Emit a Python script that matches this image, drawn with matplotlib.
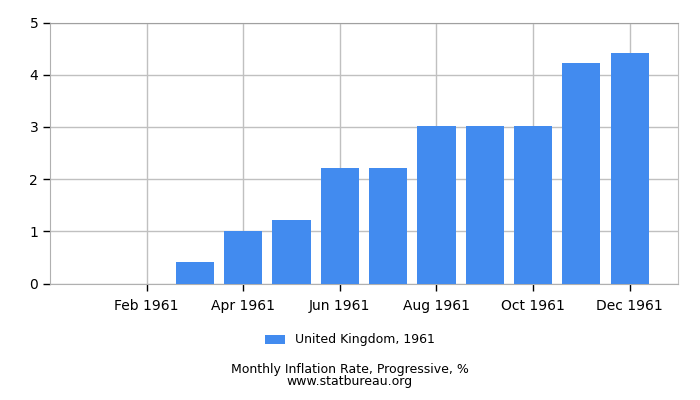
import matplotlib
matplotlib.use('Agg')
import matplotlib.pyplot as plt
import numpy as np

months = ['Jan 1961', 'Feb 1961', 'Mar 1961', 'Apr 1961', 'May 1961', 'Jun 1961',
          'Jul 1961', 'Aug 1961', 'Sep 1961', 'Oct 1961', 'Nov 1961', 'Dec 1961']
values = [0.0, 0.0, 0.41, 1.01, 1.22, 2.21, 2.21, 3.02, 3.02, 3.02, 4.23, 4.42]
series_name = 'United Kingdom, 1961'

fig = plt.figure(figsize=(7, 4), dpi=100)
ax = fig.add_axes([50/700, 1 - 283.5/400, 628/700, 261/400])

x = np.arange(len(months))
ax.bar(x, values, width=0.79, color='#428bef', label=series_name, zorder=3)

ax.set_xlim(-1, 12)
ax.set_ylim(0, 5)
ax.set_xticks(x[1::2])
ax.set_xticklabels(months[1::2])
ax.set_yticks(range(6))

ax.grid(True, color='#c0c0c0', linewidth=1, zorder=0)
ax.spines['right'].set_color('#c0c0c0')
ax.spines['top'].set_color('#a0a0a0')
for s in ['left', 'bottom']:
    ax.spines[s].set_color('#b0b0b0')
ax.tick_params(axis='both', colors='black', labelsize=10, length=5, width=1)
ax.tick_params(axis='x', pad=6)

fig.legend(loc='center', bbox_to_anchor=(0.5, 1 - 340/400), ncol=1, frameon=False,
           fontsize=9, handlelength=1.6, handleheight=0.7)
fig.text(0.5, 1 - 370/400, 'Monthly Inflation Rate, Progressive, %', ha='center', va='center', fontsize=9)
fig.text(0.5, 1 - 382/400, 'www.statbureau.org', ha='center', va='center', fontsize=9)

fig.savefig('out.png', dpi=100)
